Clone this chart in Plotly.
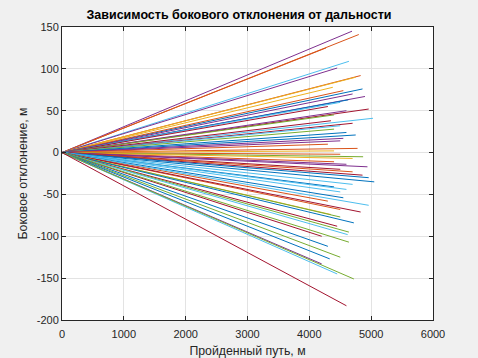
import plotly.graph_objects as go

# Endpoints of each trajectory (distance travelled, lateral deviation), all starting at origin
end_dist = [4690, 4800, 4270, 4640, 4450, 4830, 4750, 4380, 4860, 4550,
            4700, 4900, 4630, 4500, 4300, 4960, 4600, 4400, 5030, 4350,
            4700, 4500, 4400, 4600, 4750, 4550, 4500, 4300, 4780, 4400,
            4500, 4870, 4700, 4400, 4600, 4940, 4500, 4700, 4860, 4960,
            5050, 4700, 4400, 4600, 4500, 4550, 4300, 4960, 4500, 4830,
            4350, 4500, 4720, 4450, 4640, 4620, 4200, 4640, 4300, 4500,
            4330, 4200, 4450, 4720, 4600]
end_dev = [145, 141, 125, 109, 101, 92, 90, 78, 76, 74,
           70, 67, 63, 60, 55, 52, 50, 45, 41, 38,
           35, 32, 28, 24, 21, 17, 14, 10, 5, 2,
           -2, -5, -7, -11, -14, -17, -20, -23, -27, -30,
           -35, -38, -41, -44, -47, -54, -58, -63, -68, -71,
           -74, -77, -84, -88, -95, -98, -100, -107, -112, -125,
           -127, -133, -145, -151, -183]
color_idx = [3, 1, 1, 5, 3, 1, 2, 2, 0, 1,
             3, 3, 0, 5, 6, 6, 3, 4, 5, 6,
             6, 5, 4, 0, 0, 3, 3, 1, 1, 2,
             1, 4, 2, 1, 3, 3, 6, 1, 6, 0,
             0, 5, 0, 5, 5, 0, 1, 5, 1, 6,
             2, 4, 0, 6, 4, 5, 6, 4, 0, 4,
             0, 3, 5, 4, 6]
palette = ["#0072BD", "#D95319", "#EDB120", "#7E2F8E", "#77AC30", "#4DBEEE", "#A2142F"]

x_ticks = [0, 1000, 2000, 3000, 4000, 5000, 6000]
y_ticks = [-200, -150, -100, -50, 0, 50, 100, 150]

title = "Зависимость бокового отклонения от дальности"
x_title = "Пройденный путь, м"
y_title = "Боковое отклонение, м"

fig = go.Figure()
for xe, ye, ci in zip(end_dist, end_dev, color_idx):
    fig.add_trace(go.Scatter(x=[0, xe], y=[0, ye], mode="lines",
                             line=dict(color=palette[ci], width=1),
                             showlegend=False, hoverinfo="skip"))

font = "Liberation Sans, Arial, sans-serif"
fig.update_layout(
    width=478, height=358,
    margin=dict(l=62, r=45, t=27, b=38, autoexpand=False),
    paper_bgcolor="#f0f0f0", plot_bgcolor="white",
    font=dict(family=font, size=11, color="#262626"),
    title=dict(text="<b>" + title + "</b>", x=0.5, xanchor="center",
               y=1 - 15 / 358, yanchor="middle", font=dict(size=12.5, color="black")),
)
axis_common = dict(showline=True, linecolor="#262626", linewidth=1, mirror="ticks",
                   ticks="inside", ticklen=4, tickcolor="#262626",
                   showgrid=True, gridcolor="#e3e3e3", gridwidth=1,
                   zeroline=False, automargin=False,
                   tickfont=dict(size=11, color="#262626"))
fig.update_xaxes(range=[0, 6000], tickvals=x_ticks, ticktext=[str(v) for v in x_ticks],
                 ticklabelstandoff=4,
                 title=dict(text=x_title, font=dict(size=12.3, color="#262626"), standoff=8),
                 **axis_common)
fig.update_yaxes(range=[-200, 150], tickvals=y_ticks, ticktext=[str(v) for v in y_ticks],
                 title=dict(text=y_title, font=dict(size=12.3, color="#262626"), standoff=6),
                 **axis_common)

fig.write_html("out.html", config={"displayModeBar": False},
               post_script="document.body.style.margin='0';document.body.style.background='#f0f0f0';")
